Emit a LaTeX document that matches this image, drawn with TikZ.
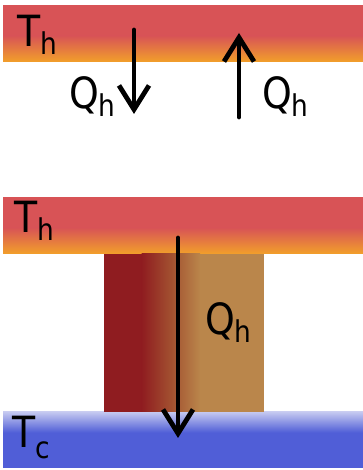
\documentclass[tikz,border=0pt]{standalone}
\usepackage{fontspec}
\setmainfont[FakeStretch=0.88]{DejaVu Sans}
\usetikzlibrary{arrows.meta}
\definecolor{hotred}{RGB}{216,83,86}
\definecolor{hotorange}{RGB}{242,160,42}
\definecolor{coldblue}{RGB}{80,94,215}
\definecolor{coldpale}{RGB}{196,200,240}
\definecolor{rodred}{RGB}{143,28,32}
\definecolor{rodmid}{RGB}{162,80,48}
\definecolor{rodtan}{RGB}{186,134,75}
\newcommand{\symb}[3][-8pt]{{\fontsize{43}{43}\selectfont #2}\raisebox{#1}{\fontsize{30}{30}\selectfont #3}}
\begin{document}
\begin{tikzpicture}[x=1pt, y=1pt, line join=round, line cap=round, >={Straight Barb[length=24pt,width=30pt]}, heat/.style={line width=4.8pt, ->}, lab/.style={inner sep=0pt, anchor=base west}]
		\useasboundingbox (0,0) rectangle (363,470);
		% hot reservoirs
		\foreach \y in {408,216}
		{\fill[hotred] (3,\y+26) rectangle (363,\y+57);
		 \shade[top color=hotred, bottom color=hotorange] (3,\y) rectangle (363,\y+26.5);}
		% cold reservoir
		\fill[coldblue] (3,2) rectangle (363,38);
		\shade[top color=coldpale, bottom color=coldblue] (3,37.5) rectangle (363,58);
		% conducting rod
		\fill[rodred] (104,58) rectangle (142,216);
		\shade[left color=rodred, right color=rodtan, middle color=rodmid] (141.5,58) rectangle (200,216);
		\fill[rodtan] (199.5,58) rectangle (264,216);
		\path (134,440) coordinate (A1) (134,356) coordinate (B1)
			(239,353) coordinate (A2) (239,437) coordinate (B2)
			(178,232) coordinate (A3) (178,32) coordinate (B3);
		\node[lab] (th1) at (17,423) {\symb{T}{h}};
		\node[lab] (qh1) at (69,361) {\symb{Q}{h}};
		\node[lab] (qh2) at (262,361) {\symb{Q}{h}};
		\node[lab] (th2) at (14,237) {\symb{T}{h}};
		\node[lab] (qh3) at (205,135) {\symb{Q}{h}};
		\node[lab] (tc) at (12,22) {\symb[-10pt]{T}{c}};
		\foreach \a/\b in {A1/B1,A2/B2,A3/B3}
		{\draw[heat] (\a)--(\b);}
\end{tikzpicture}
\end{document}
